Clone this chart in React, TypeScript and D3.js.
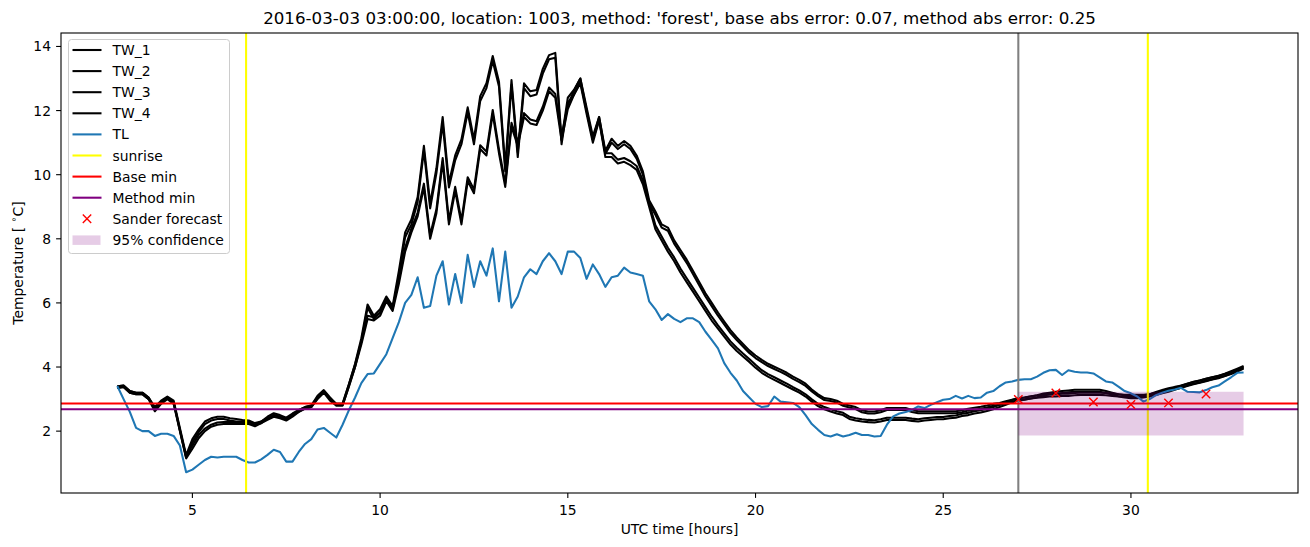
import React from 'react';
import * as d3 from 'd3';

const W = 1310;
const H = 547;
const M = { left: 61, right: 1298, top: 33, bottom: 493 };

// readings every 10 minutes, starting at 03:00 UTC
const START_HOUR = 3;
const STEP_HOURS = 1 / 6;

const TW_1 = [
  3.4, 3.42, 3.25, 3.2, 3.2, 3.05, 2.75, 2.95, 3.08, 2.95, 2.1, 1.25,
  1.75, 2.05, 2.3, 2.4, 2.45, 2.45, 2.4, 2.38, 2.35, 2.33, 2.25, 2.3,
  2.45, 2.56, 2.5, 2.42, 2.55, 2.66, 2.75, 2.8, 3.1, 3.28, 3.05, 2.85,
  2.85, 3.45, 4.1, 4.9, 5.95, 5.6, 5.8, 6.2, 5.9, 7.0, 8.2, 8.6,
  9.3, 10.9, 9.1, 10.2, 11.8, 9.75, 10.6, 11.1, 12.1, 11.1, 12.45, 12.85,
  13.7, 12.9, 10.25, 12.95, 10.7, 12.85, 12.6, 12.64, 13.3, 13.73, 13.8, 11.1,
  12.4, 12.65, 13.0, 12.0, 11.1, 11.8, 10.75, 11.12, 10.9, 11.05, 10.9, 10.6,
  10.1, 9.2, 8.85, 8.45, 8.35, 7.95, 7.65, 7.35, 7.0, 6.65, 6.3, 6.0,
  5.7, 5.42, 5.15, 4.92, 4.72, 4.52, 4.36, 4.22, 4.1, 4.01, 3.92, 3.82,
  3.7, 3.6, 3.48, 3.3, 3.15, 3.03, 3.0, 2.95, 2.85, 2.8, 2.75, 2.65,
  2.61, 2.61, 2.65, 2.72, 2.72, 2.72, 2.72, 2.66, 2.62, 2.62, 2.62, 2.62,
  2.62, 2.62, 2.62, 2.65, 2.7, 2.73, 2.76, 2.8, 2.85, 2.88, 2.93, 2.98,
  3.03, 3.05, 3.08, 3.12, 3.17, 3.2, 3.23, 3.25, 3.27, 3.29, 3.29, 3.29,
  3.29, 3.29, 3.25, 3.2, 3.15, 3.13, 3.13, 3.13, 3.13, 3.15, 3.22, 3.28,
  3.34, 3.38, 3.41, 3.48, 3.54, 3.58, 3.63, 3.68, 3.73, 3.78, 3.84, 3.92,
  4.01,
];

const TW_2 = [
  3.35, 3.38, 3.2, 3.15, 3.15, 3.0, 2.68, 2.9, 3.03, 2.9, 2.02, 1.18,
  1.65, 1.97, 2.22, 2.33, 2.38, 2.38, 2.33, 2.3, 2.3, 2.28, 2.2, 2.25,
  2.4, 2.5, 2.45, 2.37, 2.5, 2.6, 2.7, 2.75, 3.03, 3.22, 3.0, 2.8,
  2.8, 3.38, 4.0, 4.8, 5.85, 5.5, 5.7, 6.1, 5.8, 6.85, 8.05, 8.45,
  9.15, 10.75, 8.95, 10.05, 11.6, 9.6, 10.45, 10.95, 11.95, 10.95, 12.3, 12.7,
  13.55, 12.75, 10.1, 12.8, 10.55, 12.7, 12.45, 12.5, 13.15, 13.6, 13.65, 10.95,
  12.25, 12.5, 12.85, 11.9, 11.0, 11.7, 10.65, 11.0, 10.8, 10.95, 10.8, 10.5,
  10.0, 9.1, 8.75, 8.35, 8.25, 7.85, 7.55, 7.25, 6.9, 6.55, 6.2, 5.9,
  5.6, 5.33, 5.06, 4.84, 4.64, 4.44, 4.28, 4.15, 4.03, 3.94, 3.85, 3.75,
  3.63, 3.53, 3.41, 3.24, 3.09, 2.97, 2.94, 2.89, 2.79, 2.74, 2.69, 2.59,
  2.55, 2.55, 2.59, 2.66, 2.66, 2.66, 2.66, 2.6, 2.56, 2.56, 2.56, 2.56,
  2.56, 2.56, 2.56, 2.59, 2.64, 2.67, 2.7, 2.74, 2.79, 2.82, 2.87, 2.92,
  2.97, 2.99, 3.02, 3.06, 3.11, 3.14, 3.17, 3.19, 3.21, 3.23, 3.23, 3.23,
  3.23, 3.23, 3.19, 3.14, 3.09, 3.07, 3.07, 3.07, 3.07, 3.09, 3.16, 3.22,
  3.28, 3.32, 3.35, 3.42, 3.48, 3.52, 3.57, 3.62, 3.67, 3.72, 3.78, 3.86,
  3.95,
];

const TW_3 = [
  3.4, 3.42, 3.25, 3.2, 3.2, 3.05, 2.7, 2.9, 3.05, 2.9, 2.05, 1.2,
  1.55, 1.88, 2.08, 2.2, 2.27, 2.28, 2.28, 2.28, 2.28, 2.28, 2.2, 2.3,
  2.4, 2.5, 2.45, 2.38, 2.5, 2.65, 2.75, 2.8, 3.05, 3.25, 3.0, 2.85,
  2.85, 3.45, 4.08, 4.8, 5.6, 5.55, 5.7, 6.15, 5.85, 6.72, 7.72, 8.32,
  8.82, 9.72, 8.12, 8.92, 10.52, 8.57, 9.62, 8.57, 9.92, 9.54, 10.92, 10.72,
  12.02, 10.79, 9.74, 11.62, 11.02, 11.92, 11.72, 11.67, 12.12, 12.72, 12.52, 11.2,
  12.17, 12.62, 13.0, 12.1, 11.2, 11.8, 10.67, 10.67, 10.47, 10.52, 10.42, 10.27,
  9.82, 9.12, 8.42, 8.07, 7.72, 7.42, 7.07, 6.77, 6.47, 6.17, 5.87, 5.57,
  5.3, 5.05, 4.8, 4.6, 4.42, 4.25, 4.07, 3.9, 3.78, 3.68, 3.58, 3.48,
  3.37, 3.27, 3.15, 2.99, 2.85, 2.75, 2.68, 2.62, 2.57, 2.45, 2.4, 2.37,
  2.35, 2.34, 2.37, 2.42, 2.42, 2.42, 2.42, 2.39, 2.37, 2.4, 2.42, 2.44,
  2.44, 2.47, 2.49, 2.54, 2.57, 2.62, 2.65, 2.7, 2.75, 2.82, 2.89, 2.97,
  3.02, 3.05, 3.09, 3.11, 3.13, 3.15, 3.15, 3.17, 3.17, 3.19, 3.2, 3.2,
  3.2, 3.2, 3.19, 3.17, 3.15, 3.12, 3.1, 3.1, 3.12, 3.15, 3.2, 3.25,
  3.3, 3.36, 3.42, 3.48, 3.53, 3.58, 3.63, 3.68, 3.72, 3.79, 3.87, 3.95,
  4.03,
];

const TW_4 = [
  3.35, 3.38, 3.2, 3.15, 3.15, 3.0, 2.62, 2.85, 3.0, 2.85, 2.0, 1.15,
  1.45, 1.78, 2.0, 2.14, 2.2, 2.22, 2.22, 2.22, 2.22, 2.22, 2.15, 2.25,
  2.35, 2.45, 2.4, 2.33, 2.45, 2.6, 2.7, 2.75, 3.0, 3.2, 2.95, 2.8,
  2.8, 3.4, 4.0, 4.7, 5.5, 5.45, 5.6, 6.05, 5.75, 6.6, 7.6, 8.2,
  8.7, 9.6, 8.0, 8.8, 10.4, 8.45, 9.5, 8.45, 9.8, 9.42, 10.8, 10.6,
  11.9, 10.67, 9.62, 11.5, 10.9, 11.8, 11.6, 11.55, 12.0, 12.6, 12.4, 11.08,
  12.05, 12.5, 12.9, 12.0, 11.1, 11.7, 10.55, 10.55, 10.35, 10.4, 10.3, 10.15,
  9.7, 9.0, 8.3, 7.95, 7.6, 7.3, 6.95, 6.65, 6.35, 6.05, 5.75, 5.45,
  5.2, 4.95, 4.7, 4.5, 4.33, 4.16, 3.98, 3.82, 3.7, 3.6, 3.5, 3.4,
  3.3, 3.2, 3.08, 2.92, 2.78, 2.68, 2.61, 2.55, 2.5, 2.38, 2.33, 2.3,
  2.28, 2.27, 2.3, 2.35, 2.35, 2.35, 2.35, 2.32, 2.3, 2.33, 2.35, 2.37,
  2.37, 2.4, 2.42, 2.47, 2.5, 2.55, 2.58, 2.63, 2.68, 2.75, 2.82, 2.9,
  2.95, 2.98, 3.02, 3.04, 3.06, 3.08, 3.08, 3.1, 3.1, 3.12, 3.13, 3.13,
  3.13, 3.13, 3.12, 3.1, 3.08, 3.05, 3.03, 3.03, 3.05, 3.08, 3.13, 3.18,
  3.23, 3.29, 3.35, 3.41, 3.46, 3.51, 3.56, 3.61, 3.65, 3.72, 3.8, 3.88,
  3.97,
];

const TL = [
  3.41, 3.0, 2.6, 2.1, 2.0, 2.0, 1.85, 1.92, 1.92, 1.85, 1.55, 0.72,
  0.8, 0.95, 1.1, 1.2, 1.18, 1.2, 1.2, 1.2, 1.1, 1.02, 1.02, 1.12,
  1.26, 1.42, 1.35, 1.05, 1.05, 1.35, 1.6, 1.75, 2.05, 2.1, 1.95, 1.8,
  2.2, 2.65, 3.05, 3.5, 3.78, 3.8, 4.1, 4.4, 4.9, 5.4, 6.0, 6.25,
  6.8, 5.85, 5.9, 6.85, 7.3, 5.95, 6.9, 6.0, 7.5, 6.5, 7.3, 6.85,
  7.7, 6.05, 7.6, 5.85, 6.2, 6.8, 7.05, 6.9, 7.3, 7.55, 7.3, 6.9,
  7.6, 7.6, 7.4, 6.75, 7.2, 6.9, 6.5, 6.8, 6.85, 7.1, 6.95, 6.9,
  6.85, 6.05, 5.8, 5.47, 5.65, 5.5, 5.4, 5.52, 5.52, 5.4, 5.1, 4.85,
  4.58, 4.12, 3.82, 3.58, 3.25, 3.05, 2.85, 2.75, 2.78, 3.08, 2.92, 2.9,
  2.88, 2.75, 2.5, 2.22, 2.04, 1.88, 1.83, 1.9, 1.83, 1.88, 1.95, 1.88,
  1.88, 1.83, 1.85, 2.2, 2.46, 2.55, 2.6, 2.66, 2.77, 2.72, 2.82, 2.9,
  2.98, 3.0, 3.1, 3.02, 3.1, 3.03, 3.05, 3.2, 3.25, 3.4, 3.52, 3.55,
  3.6, 3.62, 3.62, 3.7, 3.82, 3.9, 3.91, 3.75, 3.9, 3.85, 3.83, 3.83,
  3.8, 3.68, 3.55, 3.52, 3.39, 3.25, 3.18, 3.08, 2.92, 3.0, 3.12, 3.2,
  3.26, 3.3, 3.35, 3.23, 3.22, 3.21, 3.28, 3.37, 3.42, 3.55, 3.68, 3.82,
  3.83,
];

const SUNRISE = [6.43, 30.45];
const FORECAST_TIME = 27;
const BASE_MIN = 2.86;
const METHOD_MIN = 2.68;
const SANDER_HOURS = [27, 28, 29, 30, 31, 32];
const SANDER_VALUES = [2.99, 3.19, 2.91, 2.83, 2.88, 3.16];
const CONF_HOURS = [27, 33];
const CONF_LOW = [1.86, 1.86];
const CONF_HIGH = [3.23, 3.23];
const X_TICKS = [5, 10, 15, 20, 25, 30];
const Y_TICKS = [2, 4, 6, 8, 10, 12, 14];

const TITLE =
  "2016-03-03 03:00:00, location: 1003, method: 'forest', base abs error: 0.07, method abs error: 0.25";

const FONT = 'DejaVu Sans, sans-serif';
const BLUE = '#1f77b4';

const x = d3.scaleLinear().domain([1.5, 34.45]).range([M.left, M.right]);
const y = d3.scaleLinear().domain([0.07, 14.42]).range([M.bottom, M.top]);

const line = d3
  .line<number>()
  .x((_, i) => x(START_HOUR + i * STEP_HOURS))
  .y((d) => y(d));

const band = d3
  .area<number>()
  .x((d) => x(d))
  .y0((_, i) => y(CONF_LOW[i]))
  .y1((_, i) => y(CONF_HIGH[i]));

const LEGEND = [
  { label: 'TW_1', kind: 'line', color: 'black' },
  { label: 'TW_2', kind: 'line', color: 'black' },
  { label: 'TW_3', kind: 'line', color: 'black' },
  { label: 'TW_4', kind: 'line', color: 'black' },
  { label: 'TL', kind: 'line', color: BLUE },
  { label: 'sunrise', kind: 'line', color: 'yellow' },
  { label: 'Base min', kind: 'line', color: 'red' },
  { label: 'Method min', kind: 'line', color: 'purple' },
  { label: 'Sander forecast', kind: 'marker', color: 'red' },
  { label: '95% confidence', kind: 'patch', color: 'purple' },
];

function Cross({ cx, cy, r = 4.2 }: { cx: number; cy: number; r?: number }) {
  return (
    <path
      d={`M${cx - r},${cy - r}L${cx + r},${cy + r}M${cx - r},${cy + r}L${cx + r},${cy - r}`}
      stroke="red"
      strokeWidth={1.4}
      fill="none"
    />
  );
}

export default function App() {
  const lw = 2.08;
  return (
    <svg
      width={W}
      height={H}
      style={{ position: 'absolute', left: 0, top: 0, background: 'white' }}
      fontFamily={FONT}
    >
      <defs>
        <clipPath id="plot">
          <rect x={M.left} y={M.top} width={M.right - M.left} height={M.bottom - M.top} />
        </clipPath>
      </defs>

      <g clipPath="url(#plot)">
        {[TW_1, TW_2, TW_3, TW_4].map((s, k) => (
          <path key={k} d={line(s) || ''} fill="none" stroke="black" strokeWidth={lw} strokeLinejoin="round" />
        ))}
        <path d={line(TL) || ''} fill="none" stroke={BLUE} strokeWidth={lw} strokeLinejoin="round" />
        {SUNRISE.map((h) => (
          <line key={h} x1={x(h)} x2={x(h)} y1={M.top} y2={M.bottom} stroke="yellow" strokeWidth={lw} />
        ))}
        <line x1={x(FORECAST_TIME)} x2={x(FORECAST_TIME)} y1={M.top} y2={M.bottom} stroke="grey" strokeWidth={lw} />
        <line x1={M.left} x2={M.right} y1={y(BASE_MIN)} y2={y(BASE_MIN)} stroke="red" strokeWidth={lw} />
        <line x1={M.left} x2={M.right} y1={y(METHOD_MIN)} y2={y(METHOD_MIN)} stroke="purple" strokeWidth={lw} />
        <path d={band(CONF_HOURS) || ''} fill="purple" fillOpacity={0.2} />
        {SANDER_HOURS.map((h, i) => (
          <Cross key={h} cx={x(h)} cy={y(SANDER_VALUES[i])} />
        ))}
      </g>

      {/* axes frame */}
      <rect
        x={M.left}
        y={M.top}
        width={M.right - M.left}
        height={M.bottom - M.top}
        fill="none"
        stroke="black"
        strokeWidth={1.1}
      />

      {X_TICKS.map((t) => (
        <g key={t}>
          <line x1={x(t)} x2={x(t)} y1={M.bottom} y2={M.bottom + 4.9} stroke="black" strokeWidth={1.1} />
          <text x={x(t)} y={515} textAnchor="middle" fontSize={13.9}>
            {t}
          </text>
        </g>
      ))}
      {Y_TICKS.map((t) => (
        <g key={t}>
          <line x1={M.left - 4.9} x2={M.left} y1={y(t)} y2={y(t)} stroke="black" strokeWidth={1.1} />
          <text x={51} y={y(t) + 5} textAnchor="end" fontSize={13.9}>
            {t}
          </text>
        </g>
      ))}

      <text x={(M.left + M.right) / 2} y={534} textAnchor="middle" fontSize={13.9}>
        UTC time [hours]
      </text>
      <text transform={`translate(23,${(M.top + M.bottom) / 2}) rotate(-90)`} textAnchor="middle" fontSize={13.9}>
        Temperature [ <tspan fontSize={9.5} dy={-6}>∘</tspan>
        <tspan dy={6}>C]</tspan>
      </text>
      <text x={(M.left + M.right) / 2} y={24} textAnchor="middle" fontSize={16.7}>
        {TITLE}
      </text>

      {/* legend */}
      <rect x={68.5} y={39.5} width={161} height={214} rx={3} fill="white" fillOpacity={0.8} stroke="#cccccc" />
      {LEGEND.map((e, i) => {
        const cy = 50 + i * 21.1;
        return (
          <g key={e.label}>
            {e.kind === 'line' && (
              <line x1={72.5} x2={101.5} y1={cy} y2={cy} stroke={e.color} strokeWidth={lw} />
            )}
            {e.kind === 'marker' && <Cross cx={87} cy={cy} />}
            {e.kind === 'patch' && (
              <rect x={72.5} y={cy - 4.5} width={28} height={9.5} fill={e.color} fillOpacity={0.2} />
            )}
            <text x={112.5} y={cy + 5} fontSize={13.9}>
              {e.label}
            </text>
          </g>
        );
      })}
    </svg>
  );
}
